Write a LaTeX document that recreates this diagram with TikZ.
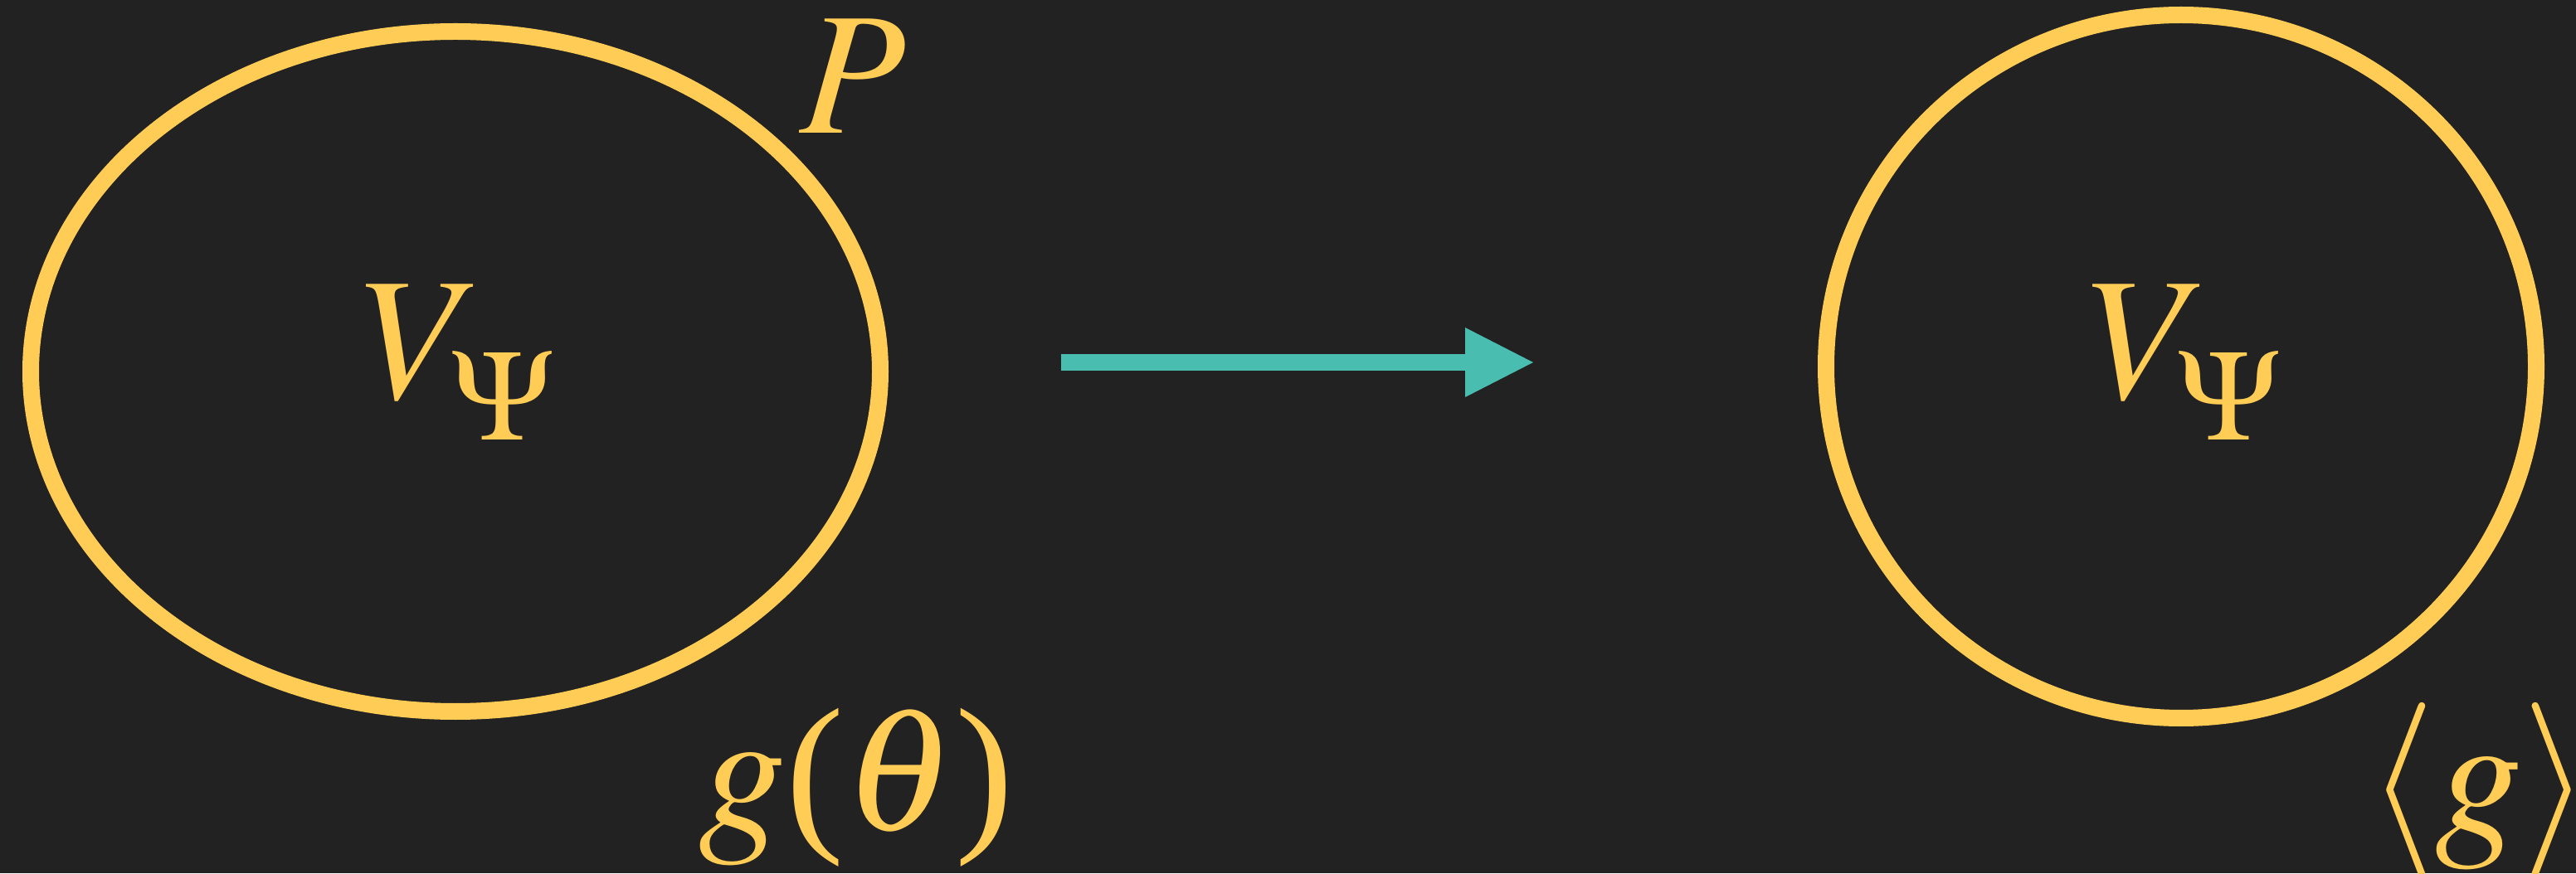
\documentclass[tikz,border=0pt]{standalone}
\usepackage{mathptmx}
\usepackage{fontspec}
\setmainfont{Liberation Serif}
\usepackage{xcolor}
\usepackage{tikz}
\usetikzlibrary{arrows.meta,shapes.geometric}
\definecolor{fondo}{HTML}{222222}
\definecolor{oro}{HTML}{FFCC55}
\definecolor{turquesa}{HTML}{4ABDB1}
\newcommand{\vpsi}{$V_{\raisebox{-0.18cm}{$\scriptstyle\Psi$}}$}
\tikzset{
  conjunto/.style={ellipse,draw=oro,line width=2mm,inner sep=0pt},
  rotulo/.style={text=oro,inner sep=0pt,font=\fontsize{60}{72}\selectfont},
  flecha/.style={draw=turquesa,line width=2mm,
    -{Triangle[length=8.2mm,width=8.4mm,line width=0pt]}}
}

\begin{document}
\begin{tikzpicture}
\fill[fondo] (0,0) rectangle (31.05,10.53);
\useasboundingbox (0,0) rectangle (31.05,10.53);

% 1. Conjunto de partida
\node[conjunto,minimum width=10.24cm,minimum height=8.20cm] (origen) at (5.49,6.05) {};
\node[rotulo,anchor=base] (vorigen) at (5.53,5.72) {\vpsi};
\node[rotulo,anchor=base] (pe) at (10.28,8.92) {$P$};
\node[rotulo,anchor=base] (gtheta) at (10.32,0.53) {$g\textup{(}\theta\textup{)}$};

% 2. Conjunto de llegada
\node[conjunto,minimum width=8.56cm,minimum height=8.48cm] (destino) at (26.29,6.11) {};
\node[rotulo,anchor=base] (vdestino) at (26.34,5.72) {\vpsi};
\node[rotulo,anchor=base] (grupo) at (29.88,0.48) {$\langle g\rangle$};

% 3. Flecha
\coordinate (inicio) at (12.79,6.16);
\coordinate (fin) at (18.48,6.16);
\draw[flecha] (inicio)--(fin);

\end{tikzpicture}
\end{document}
